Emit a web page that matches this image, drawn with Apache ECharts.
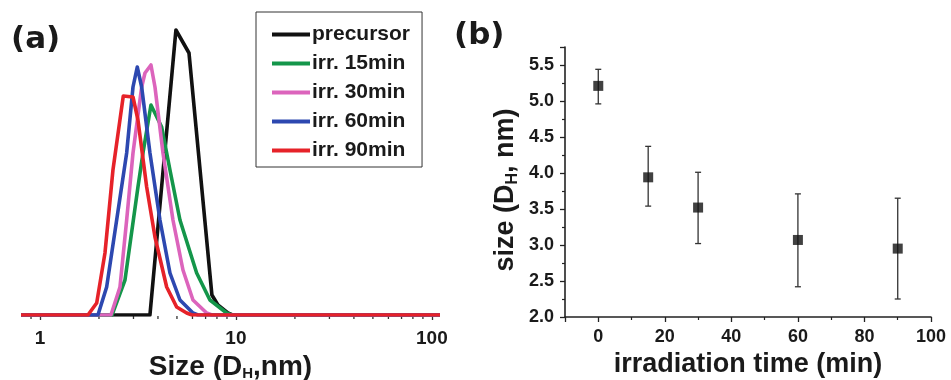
<!DOCTYPE html>
<html>
<head>
<meta charset="utf-8">
<script src="https://cdn.jsdelivr.net/npm/echarts@6/dist/echarts.min.js"></script>
<style>
  html, body { margin: 0; padding: 0; background: #ffffff; }
  #chart { width: 951px; height: 380px; }
</style>
</head>
<body>
<div id="chart"></div>
<script>
// ---- (a) size distributions (hydrodynamic diameter, nm vs. relative intensity) ----
const seriesNames  = ['precursor', 'irr. 15min', 'irr. 30min', 'irr. 60min', 'irr. 90min'];
const seriesColors = ['#111111', '#14964a', '#dc64bc', '#2d48b0', '#e62229'];

const precursorSize = [0.8, 3.64, 4.94, 5.76, 7.54, 8.09, 9.10, 9.60, 110];
const precursorInt  = [0,   0,    285,  262,  20,   10,   2,    0,    0];

const irr15Size = [0.8, 2.33, 2.715, 3.162, 3.354, 3.684, 4.178, 4.606, 5.18, 6.303, 7.366, 8.966, 9.53, 110];
const irr15Int  = [0,   0,    35,    128,   162,   210,   188,   145,   95,   42,    15,    2,     0,    0];

const irr30Size = [0.8, 2.302, 2.56, 2.769, 2.983, 3.303, 3.434, 3.684, 3.862, 4.243, 4.771, 5.366, 6.035, 7.087, 7.54, 110];
const irr30Int  = [0,   0,     28,   95,    162,   228,   242,   250,   228,   162,   95,    45,    15,    2,     0,    0];

const irr60Size = [0.8, 1.976, 2.189, 2.462, 2.769, 2.983, 3.136, 3.303, 3.641, 4.095, 4.606, 5.18, 6.035, 6.40, 110];
const irr60Int  = [0,   0,     28,    95,    162,   228,   248,   228,   162,   95,    42,    15,   2,     0,    0];

const irr90Size = [0.8, 1.757, 1.947, 2.146, 2.357, 2.661, 2.983, 3.162, 3.503, 3.862, 4.431, 4.983, 5.604, 5.965, 110];
const irr90Int  = [0,   0,     12,    62,    145,   219,   218,   195,   128,   78,    28,    8,     2,     0,     0];

const distSizes = [precursorSize, irr15Size, irr30Size, irr60Size, irr90Size];
const distInts  = [precursorInt,  irr15Int,  irr30Int,  irr60Int,  irr90Int];

// minor ticks of the logarithmic size axis
const minorTickSizes = [0.9, 2, 3, 4, 5, 6, 7, 8, 9, 20, 30, 40, 50, 60, 70, 80, 90];

// ---- (b) mean size vs. irradiation time, with error bars ----
const irrTime  = [0, 15, 30, 60, 90];
const meanSize = [5.21, 3.94, 3.52, 3.07, 2.95];
const sizeLow  = [4.96, 3.54, 3.02, 2.42, 2.25];
const sizeHigh = [5.44, 4.37, 4.01, 3.71, 3.65];

const FONT = '"Liberation Sans", Arial, sans-serif';
const ink = '#1a1a1a';

const zip = (a, b) => a.map((v, i) => [v, b[i]]);

const distSeries = seriesNames.map((name, i) => ({
  name: name,
  type: 'line',
  xAxisIndex: 0,
  yAxisIndex: 0,
  data: zip(distSizes[i], distInts[i]),
  symbol: 'none',
  smooth: false,
  lineStyle: { color: seriesColors[i], width: 3.6, join: 'round' },
  itemStyle: { color: seriesColors[i] },
  z: 2 + i,
  animation: false
}));

const option = {
  animation: false,
  backgroundColor: '#ffffff',
  textStyle: { fontFamily: FONT },
  grid: [
    { left: 21, right: 511, top: 15, bottom: 65, containLabel: false, outerBoundsMode: 'none' },
    { left: 565, right: 20, top: 47, bottom: 63, containLabel: false, outerBoundsMode: 'none' }
  ],
  legend: {
    data: seriesNames,
    orient: 'vertical',
    left: 256,
    top: 12,
    padding: [12, 12, 6, 16],
    itemWidth: 38,
    itemHeight: 4,
    itemGap: 8,
    icon: 'rect',
    borderColor: '#333',
    borderWidth: 1,
    backgroundColor: '#fff',
    textStyle: { fontFamily: FONT, fontWeight: 'bold', fontSize: 21, color: ink, lineHeight: 21, padding: [0, 0, 0, -3] }
  },
  graphic: [
    { type: 'text', left: 11, top: 24, style: { text: '(a)', font: 'bold 31px "DejaVu Sans", sans-serif', fill: ink } },
    { type: 'text', left: 454, top: 20, style: { text: '(b)', font: 'bold 31px "DejaVu Sans", sans-serif', fill: ink } }
  ],
  xAxis: [
    {
      gridIndex: 0,
      type: 'log',
      logBase: 10,
      min: 0.8,
      max: 110,
      axisLine: { show: false },
      axisTick: { show: true, length: 5, lineStyle: { color: '#333', width: 1.3 } },
      axisLabel: {
        margin: 14, fontSize: 19, fontWeight: 'bold', color: ink, fontFamily: FONT,
        showMinLabel: false, showMaxLabel: false
      },
      splitLine: { show: false },
      name: 'Size (D{sub|H},nm)',
      nameLocation: 'middle',
      nameGap: 28,
      nameTextStyle: {
        fontSize: 28, fontWeight: 'bold', color: ink, fontFamily: FONT,
        rich: { sub: { fontSize: 15, fontWeight: 'bold', color: ink, fontFamily: FONT, padding: [14, 0, 0, 0] } }
      }
    },
    {
      gridIndex: 1,
      type: 'value',
      min: -10,
      max: 100,
      splitNumber: 5,
      axisLine: { show: true, onZero: false, lineStyle: { color: '#222', width: 1.6 } },
      axisTick: { show: true, length: 5, lineStyle: { color: '#222', width: 1.3 } },
      minorTick: { show: true, splitNumber: 2, length: 3, lineStyle: { color: '#222', width: 1.2 } },
      axisLabel: { margin: 11, fontSize: 18, fontWeight: 'bold', color: ink, fontFamily: FONT, showMinLabel: false },
      splitLine: { show: false },
      name: 'irradiation time (min)',
      nameLocation: 'middle',
      nameGap: 33,
      nameTextStyle: { fontSize: 27, fontWeight: 'bold', color: ink, fontFamily: FONT }
    }
  ],
  yAxis: [
    {
      gridIndex: 0,
      type: 'value',
      min: 0,
      max: 300,
      show: false
    },
    {
      gridIndex: 1,
      type: 'value',
      min: 2,
      max: 5.75,
      interval: 0.5,
      axisLine: { show: true, onZero: false, lineStyle: { color: '#222', width: 1.6 } },
      axisTick: { show: true, length: 5, lineStyle: { color: '#222', width: 1.3 } },
      minorTick: { show: true, splitNumber: 2, length: 3, lineStyle: { color: '#222', width: 1.2 } },
      axisLabel: {
        margin: 11, fontSize: 18, fontWeight: 'bold', color: ink, fontFamily: FONT,
        showMaxLabel: false, formatter: v => v.toFixed(1)
      },
      splitLine: { show: false },
      name: 'size (D{sub|H}, nm)',
      nameLocation: 'middle',
      nameGap: 44,
      nameTextStyle: {
        fontSize: 27, fontWeight: 'bold', color: ink, fontFamily: FONT,
        padding: [0, 16, 0, 0],
        rich: { sub: { fontSize: 16, fontWeight: 'bold', color: ink, fontFamily: FONT, padding: [14, 0, 0, 0] } }
      }
    }
  ],
  series: [
    ...distSeries,
    {
      name: 'log minor ticks',
      type: 'custom',
      xAxisIndex: 0,
      yAxisIndex: 0,
      clip: false,
      silent: true,
      data: minorTickSizes.map(v => [v, 0]),
      renderItem: (params, api) => {
        const p = api.coord([api.value(0), 0]);
        return {
          type: 'line',
          shape: { x1: p[0], y1: p[1] + 1, x2: p[0], y2: p[1] + 4 },
          style: { stroke: '#333', lineWidth: 1.3 }
        };
      },
      z: 1
    },
    {
      name: 'error bars',
      type: 'custom',
      xAxisIndex: 1,
      yAxisIndex: 1,
      clip: false,
      silent: true,
      data: irrTime.map((t, i) => [t, sizeLow[i], sizeHigh[i]]),
      renderItem: (params, api) => {
        const lo = api.coord([api.value(0), api.value(1)]);
        const hi = api.coord([api.value(0), api.value(2)]);
        const cap = 3;
        const st = { stroke: '#333', lineWidth: 1.3 };
        return {
          type: 'group',
          children: [
            { type: 'line', shape: { x1: lo[0], y1: lo[1], x2: hi[0], y2: hi[1] }, style: st },
            { type: 'line', shape: { x1: lo[0] - cap, y1: lo[1], x2: lo[0] + cap, y2: lo[1] }, style: st },
            { type: 'line', shape: { x1: hi[0] - cap, y1: hi[1], x2: hi[0] + cap, y2: hi[1] }, style: st }
          ]
        };
      },
      z: 2
    },
    {
      name: 'mean size',
      type: 'scatter',
      xAxisIndex: 1,
      yAxisIndex: 1,
      data: zip(irrTime, meanSize),
      symbol: 'rect',
      symbolSize: 10,
      itemStyle: { color: '#111' },
      z: 3
    }
  ]
};

const chart = echarts.init(document.getElementById('chart'), null, { renderer: 'canvas' });
chart.setOption(option);
</script>
</body>
</html>
